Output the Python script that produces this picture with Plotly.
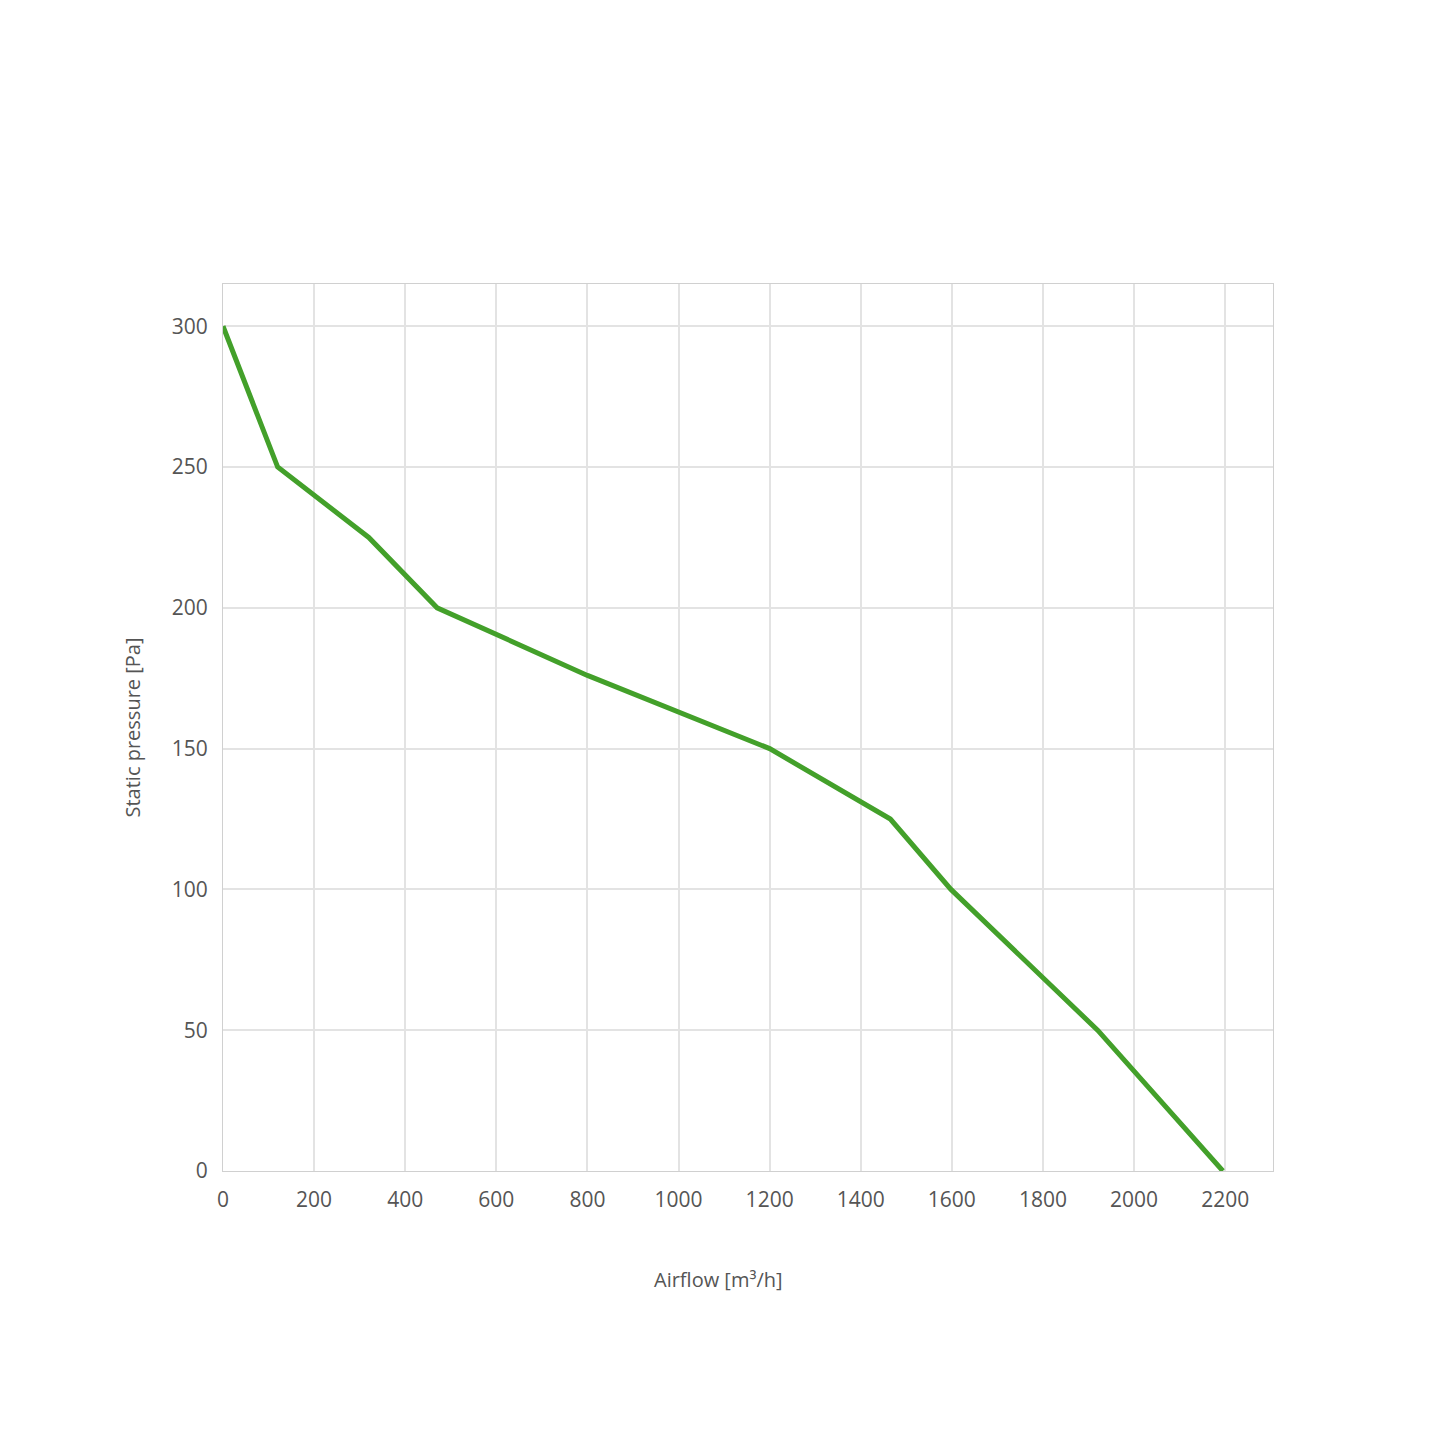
import plotly.graph_objects as go

airflow = [0, 120, 320, 470, 800, 1200, 1465, 1598, 1920, 2195]
pressure = [300, 250, 225, 200, 176, 150, 125, 100, 50, 0]
x_ticks = [0, 200, 400, 600, 800, 1000, 1200, 1400, 1600, 1800, 2000, 2200]
y_ticks = [0, 50, 100, 150, 200, 250, 300]
x_title = "Airflow [m³/h]"
y_title = "Static pressure [Pa]"

fig = go.Figure()
fig.add_trace(go.Scatter(x=airflow, y=pressure, mode="lines",
                         line=dict(color="#43a02a", width=5), showlegend=False))

font_family = "Open Sans, DejaVu Sans, sans-serif"
fig.update_layout(
    width=1445, height=1445,
    paper_bgcolor="white", plot_bgcolor="white",
    margin=dict(l=215, r=180, t=276, b=282),
    font=dict(family=font_family, size=21, color="#555555"),
    xaxis=dict(range=[0, 2305], tickvals=x_ticks, showgrid=True, gridcolor="#e3e3e3",
               gridwidth=1.5, zeroline=False, showline=True, linecolor="#d0d0d0", mirror=True,
               ticks="", ticklen=0, ticklabelstandoff=10,
               tickfont=dict(size=21, color="#555555")),
    yaxis=dict(range=[0, 315], tickvals=y_ticks, showgrid=True, gridcolor="#e3e3e3",
               gridwidth=1.5, zeroline=False, showline=True, linecolor="#d0d0d0", mirror=True,
               ticks="", ticklen=0, ticklabelstandoff=10,
               title=dict(text=y_title, standoff=25, font=dict(size=20, color="#555555")),
               tickfont=dict(size=21, color="#555555")),
    annotations=[dict(text=x_title, xref="paper", yref="paper", x=0.472, y=0,
                      xanchor="center", yanchor="middle", yshift=-108, showarrow=False,
                      font=dict(size=20, color="#555555"))],
)
fig.write_html("out.html")
